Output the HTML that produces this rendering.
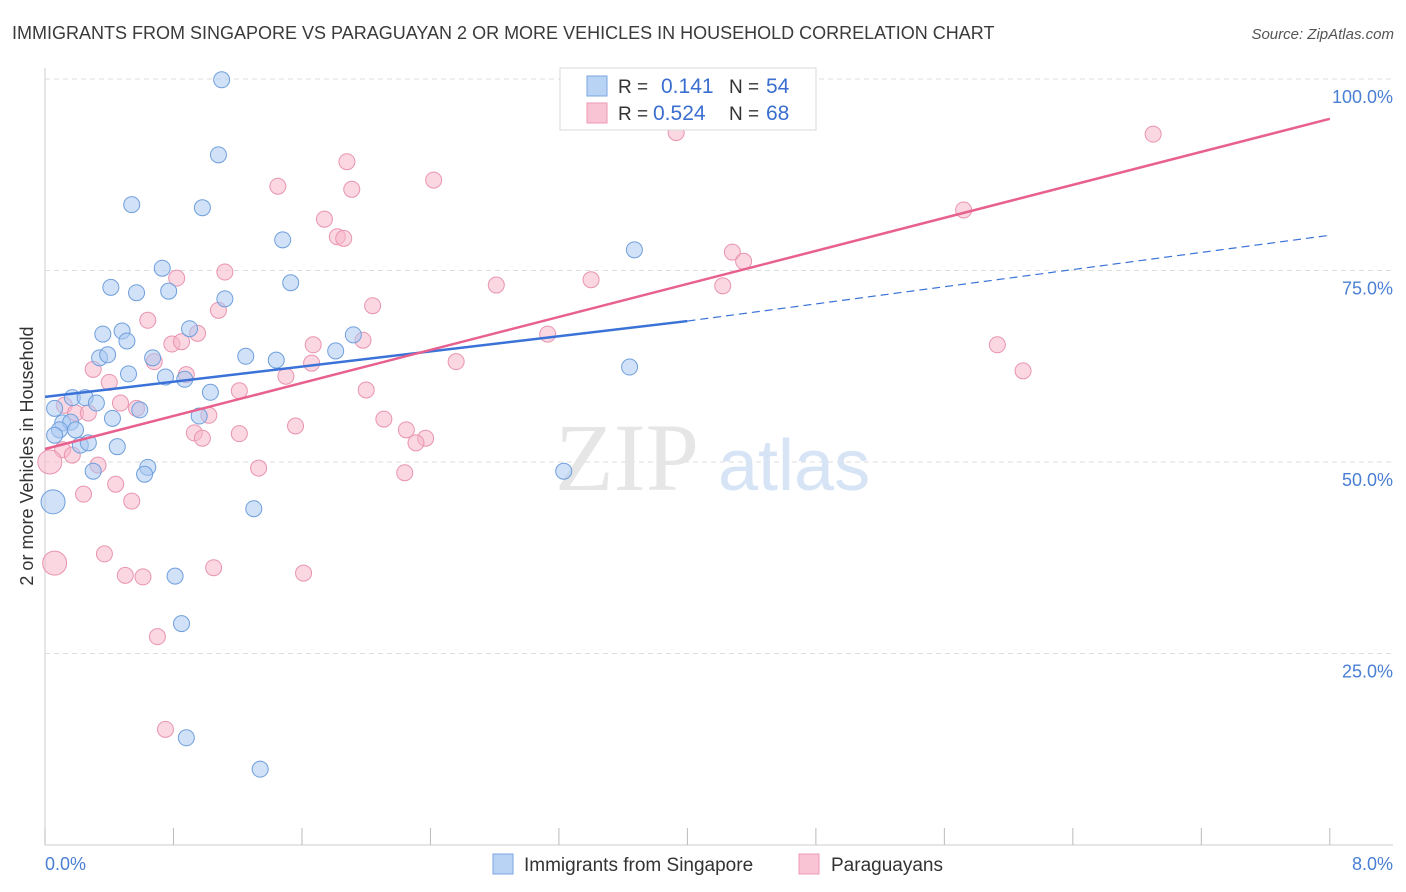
<!DOCTYPE html>
<html><head><meta charset="utf-8"><style>
body{margin:0;background:#fff;font-family:"Liberation Sans",sans-serif;}
svg{display:block}
</style></head><body>
<svg id="chart" width="1406" height="892" xmlns="http://www.w3.org/2000/svg" font-family="Liberation Sans, sans-serif">
<text x="12" y="39" font-size="18" fill="#3a3a3a">IMMIGRANTS FROM SINGAPORE VS PARAGUAYAN 2 OR MORE VEHICLES IN HOUSEHOLD CORRELATION CHART</text>
<text x="1394" y="39" font-size="15" fill="#555" font-style="italic" text-anchor="end">Source: ZipAtlas.com</text>
<text transform="translate(33,456) rotate(-90)" font-size="18" fill="#333" text-anchor="middle">2 or more Vehicles in Household</text>
<g id="grid"></g>
<g>
<text x="555" y="490" font-size="96" font-family="Liberation Serif, serif" fill="#e6e6e6">ZIP</text>
<text x="718" y="490" font-size="72" fill="#d6e4f5">atlas</text>
</g>
<g id="marks"></g>
<g>
<rect x="560" y="68" width="256" height="62" fill="#fff" stroke="#d8d8d8"/>
<rect x="587" y="76" width="20" height="20" fill="#b9d3f5" stroke="#7aa6e0"/>
<text x="618" y="93" font-size="19" fill="#333">R = </text><text x="661" y="93" font-size="21" fill="#3a6fd0">0.141</text>
<text x="729" y="93" font-size="19" fill="#333">N = </text><text x="766" y="93" font-size="21" fill="#3a6fd0">54</text>
<rect x="587" y="103" width="20" height="20" fill="#f9c4d4" stroke="#ec9ab4"/>
<text x="618" y="120" font-size="19" fill="#333">R = </text><text x="653" y="120" font-size="21" fill="#3a6fd0">0.524</text>
<text x="729" y="120" font-size="19" fill="#333">N = </text><text x="766" y="120" font-size="21" fill="#3a6fd0">68</text>
</g>
<g>
<rect x="493" y="854" width="20" height="20" fill="#b9d3f5" stroke="#7aa6e0"/>
<text x="524" y="871" font-size="19" fill="#333">Immigrants from Singapore</text>
<rect x="799" y="854" width="20" height="20" fill="#f9c4d4" stroke="#ec9ab4"/>
<text x="831" y="871" font-size="19" fill="#333">Paraguayans</text>
</g>
</svg>
<script>
const xTicks=[0,0.8,1.6,2.4,3.2,4,4.8,5.6,6.4,7.2,8];
const yTicks=[25,50,75,100];
const yTickLabels=["25.0%","50.0%","75.0%","100.0%"];
const xEndLabels=["0.0%","8.0%"];
const sgX=[1.10,1.08,0.54,0.98,1.48,3.67,0.73,1.53,0.41,0.57,0.77,1.12,0.36,0.48,0.90,0.51,1.92,1.81,0.34,0.39,0.67,1.25,1.44,0.52,0.75,0.87,3.64,1.03,0.17,0.25,0.32,0.06,0.59,0.96,0.42,0.11,0.16,0.09,0.19,0.06,0.22,0.27,0.45,0.64,0.62,0.30,3.23,0.05,1.30,0.81,0.85,0.88,1.34];
const sgY=[99.9,90.1,83.6,83.2,79.0,77.7,75.3,73.4,72.8,72.1,72.3,71.3,66.7,67.1,67.4,65.8,66.6,64.5,63.6,64.0,63.6,63.8,63.3,61.5,61.1,60.8,62.4,59.1,58.4,58.4,57.7,57.0,56.8,56.0,55.7,55.1,55.2,54.2,54.2,53.5,52.2,52.5,52.0,49.3,48.4,48.8,48.8,44.8,43.9,35.1,28.9,14.0,9.9];
const pyX=[3.93,6.90,1.88,2.42,1.45,1.91,5.72,1.74,1.82,1.86,4.28,4.35,0.82,1.12,3.40,2.81,4.22,2.04,1.08,0.64,0.95,1.98,3.13,0.79,0.85,1.67,5.93,0.68,0.30,6.09,2.56,1.66,1.50,0.88,0.40,2.00,1.21,0.47,0.12,0.57,1.02,0.19,0.27,2.11,1.56,0.93,1.21,2.25,2.37,2.31,0.98,0.11,0.17,0.33,1.33,2.24,0.03,0.24,0.44,0.54,0.37,1.05,0.50,0.61,1.61,0.06,0.70,0.75];
const pyY=[93.0,92.8,89.2,86.8,86.0,85.6,82.9,81.7,79.4,79.2,77.4,76.2,74.0,74.8,73.8,73.1,73.0,70.4,69.8,68.5,66.8,65.9,66.7,65.4,65.7,65.3,65.3,63.1,62.1,61.9,63.1,62.9,61.2,61.4,60.4,59.4,59.3,57.7,57.4,57.0,56.1,56.4,56.4,55.6,54.7,53.8,53.7,54.2,53.1,52.5,53.1,51.6,50.9,49.6,49.2,48.6,50.0,45.8,47.1,44.9,38.0,36.2,35.2,35.0,35.5,36.8,27.2,15.1];
const sgLarge=[47];
const pyLarge=[56,65];
const sgLine=[0,58.5,4,68.4,8,79.6];
const pyLine=[0,51.7,8,94.8];
const NS="http://www.w3.org/2000/svg";
const X=v=>45+v*160.6, Y=v=>79+(100-v)*7.66;
function mk(tag,attrs,parent){const e=document.createElementNS(NS,tag);for(const k in attrs)e.setAttribute(k,attrs[k]);parent.appendChild(e);return e;}
const grid=document.getElementById('grid'), marks=document.getElementById('marks');
let ax=mk('line',{x1:45,y1:68,x2:45,y2:845,stroke:'#ccc'},grid);


let bx=mk('line',{x1:45,y1:845,x2:1393,y2:845,stroke:'#ccc'},grid);


yTicks.forEach((t,i)=>{
 const g=mk('line',{x1:45,y1:Y(t),x2:1393,y2:Y(t),stroke:'#ddd','stroke-dasharray':'5,4'},grid);
 
 
 const l=mk('text',{x:1393,y:Y(t)+24,'font-size':18,fill:'#4a7fd4','text-anchor':'end'},grid);l.textContent=yTickLabels[i];
 
 
});
xTicks.forEach(t=>{
 const k=mk('line',{x1:X(t),y1:828,x2:X(t),y2:845,stroke:'#bbb'},grid);
 
 
});
[[0,45,'start'],[8,1393,'end']].forEach((a,i)=>{
 const l=mk('text',{x:a[1],y:870,'font-size':18,fill:'#4a7fd4','text-anchor':a[2]},grid);l.textContent=xEndLabels[i];
 
 
});
function pts(xs,ys,large,fill,stroke,name){
 xs.forEach((x,i)=>{
  const r=large.includes(i)?12:8;
  const c=mk('circle',{cx:X(x),cy:Y(ys[i]),r:r,fill:fill,'fill-opacity':0.55,stroke:stroke,'stroke-width':1},marks);
  
  
 });
}
pts(pyX,pyY,pyLarge,'#f7b6ca','#e994b0','point-paraguayans');
pts(sgX,sgY,sgLarge,'#a9c9f2','#6f9fdc','point-singapore');
let l1=mk('line',{x1:X(sgLine[0]),y1:Y(sgLine[1]),x2:X(sgLine[2]),y2:Y(sgLine[3]),stroke:'#3a72d8','stroke-width':2.5},marks);


let l2=mk('line',{x1:X(sgLine[2]),y1:Y(sgLine[3]),x2:X(sgLine[4]),y2:Y(sgLine[5]),stroke:'#3a72d8','stroke-width':1.2,'stroke-dasharray':'8,5'},marks);


let l3=mk('line',{x1:X(pyLine[0]),y1:Y(pyLine[1]),x2:X(pyLine[2]),y2:Y(pyLine[3]),stroke:'#e8608e','stroke-width':2.5},marks);


</script>
</body></html>
